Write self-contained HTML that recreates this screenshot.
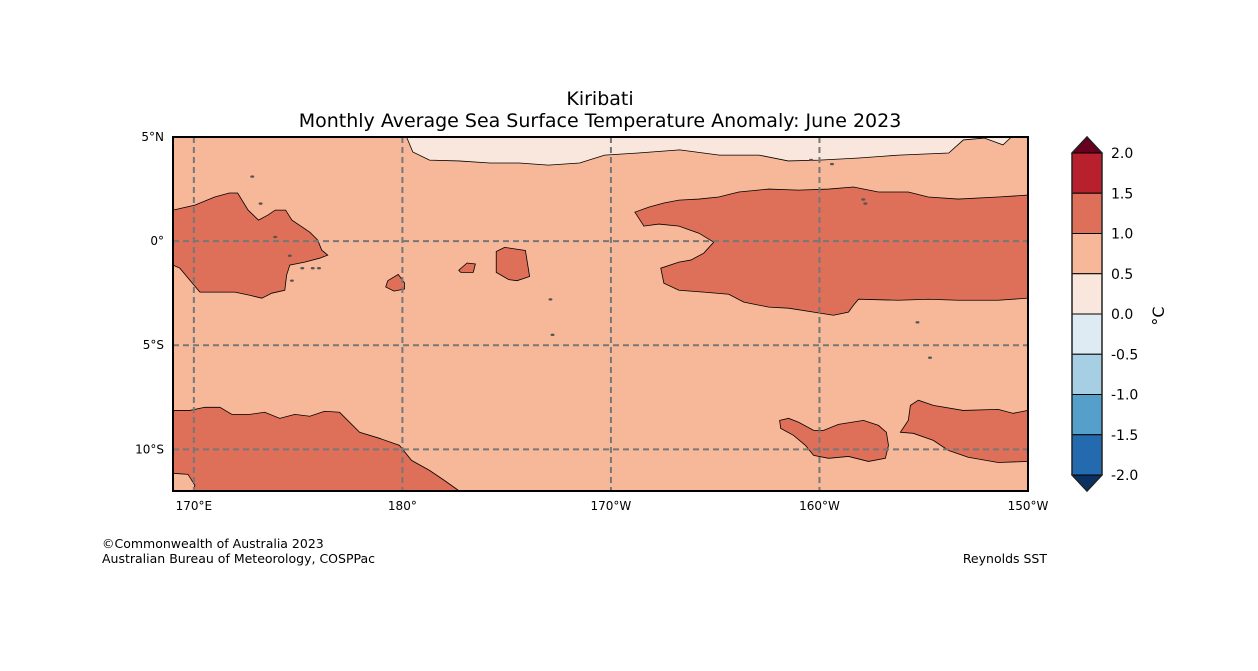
<!DOCTYPE html>
<html><head><meta charset="utf-8"><style>
body{margin:0;background:#fff;width:1258px;height:667px;overflow:hidden;font-family:"DejaVu Sans","Liberation Sans",sans-serif}
</style></head><body>
<svg id="chart" width="1258" height="667" xmlns="http://www.w3.org/2000/svg" font-family="DejaVu Sans, Liberation Sans, sans-serif">
<text x="600" y="105" text-anchor="middle" font-size="19">Kiribati</text>
<text x="600" y="127" text-anchor="middle" font-size="19">Monthly Average Sea Surface Temperature Anomaly: June 2023</text>
<g id="map"></g>
<g id="axes"></g>
<g id="cbar"></g>
<text x="102" y="548" font-size="12.5">©Commonwealth of Australia 2023</text>
<text x="102" y="563" font-size="12.5">Australian Bureau of Meteorology, COSPPac</text>
<text x="1047" y="563" text-anchor="end" font-size="12.5">Reynolds SST</text>
</svg>
<script>
const lonTicks=[170,180,190,200,210];
const lonLabels=["170°E","180°","170°W","160°W","150°W"];
const latTicks=[5,0,-5,-10];
const latLabels=["5°N","0°","5°S","10°S"];
const cbLevels=[2.0,1.5,1.0,0.5,0.0,-0.5,-1.0,-1.5,-2.0];
const cbColors=["#b8202e","#de6f58","#f6b899","#f9e7dd","#dfebf2","#a7cfe4","#559fcb","#246aaf"];
const extMax="#67001f", extMin="#0a3161";
const bgLevel="#f6b899";
const lightTop=[[180.2,5],[180.5,4.28],[181.3,3.89],[182.7,3.85],[184.2,3.75],[185.6,3.75],[187.0,3.65],[188.5,3.75],[189.7,4.13],[191.3,4.23],[193.3,4.38],[195.2,4.13],[197.1,4.13],[198.5,3.85],[200.0,3.89],[201.9,3.99],[203.8,4.13],[206.2,4.23],[206.9,4.86],[207.9,4.95],[208.8,4.62],[209.2,5]];
const redWest=[[169,1.49],[170.05,1.73],[171.0,2.12],[171.7,2.31],[172.1,2.31],[172.6,1.49],[173.1,1.01],[173.55,1.25],[173.9,1.49],[174.4,1.49],[174.7,1.01],[175.56,0.43],[175.94,0.05],[176.13,-0.43],[176.42,-0.67],[176.03,-0.82],[175.32,-1.01],[174.6,-1.15],[174.45,-1.63],[174.36,-2.36],[173.74,-2.5],[173.26,-2.74],[172.68,-2.6],[171.97,-2.45],[171.0,-2.45],[170.29,-2.45],[169.81,-1.88],[169.33,-1.3],[169,-1.15]];
const redIsl1=[[179.3,-1.9],[179.8,-1.6],[180.1,-2.0],[180.1,-2.3],[179.6,-2.4],[179.2,-2.2]];
const redIsl2=[[182.7,-1.4],[183.1,-1.05],[183.5,-1.1],[183.4,-1.5],[182.8,-1.5]];
const redIsl3=[[184.5,-0.5],[184.9,-0.3],[185.9,-0.45],[186.1,-1.7],[185.5,-1.9],[185.1,-1.85],[184.5,-1.5]];
const redEast=[[191.15,1.39],[191.82,1.63],[192.54,1.83],[193.26,1.97],[194.22,2.02],[195.17,2.12],[196.13,2.36],[197.57,2.5],[199.0,2.45],[200.44,2.5],[201.63,2.6],[202.83,2.36],[204.26,2.36],[205.22,2.12],[206.66,2.02],[208.57,2.12],[210,2.21],[210,-2.74],[208.57,-2.84],[206.66,-2.84],[205.22,-2.79],[203.78,-2.84],[201.87,-2.79],[201.63,-3.08],[201.39,-3.41],[200.67,-3.56],[199.72,-3.41],[198.52,-3.22],[197.57,-3.17],[196.37,-2.93],[195.65,-2.55],[194.45,-2.45],[193.26,-2.36],[192.54,-2.02],[192.39,-1.3],[193.26,-1.01],[193.83,-0.91],[194.45,-0.58],[194.93,-0.05],[194.22,0.38],[193.26,0.72],[192.3,0.82],[191.58,0.72]];
const redSW=[[169,-8.13],[169.81,-8.13],[170.53,-7.98],[171.25,-7.98],[171.82,-8.32],[172.68,-8.32],[173.4,-8.22],[174.12,-8.51],[174.84,-8.32],[175.56,-8.41],[176.27,-8.17],[176.99,-8.22],[177.47,-8.7],[177.95,-9.18],[178.9,-9.47],[179.86,-9.81],[180.44,-10.53],[181.3,-11.01],[182.01,-11.49],[182.73,-12],[169,-12]];
const orangeSW=[[169,-11.15],[169.72,-11.2],[170.05,-11.73],[169.96,-12],[169,-12]];
const redSE1=[[198.09,-8.61],[198.52,-8.51],[199.0,-8.7],[199.72,-9.09],[200.2,-9.09],[200.91,-8.8],[202.11,-8.61],[202.83,-8.85],[203.21,-9.18],[203.31,-9.81],[203.16,-10.43],[202.35,-10.58],[201.39,-10.34],[200.44,-10.43],[199.72,-10.29],[199.33,-9.81],[198.76,-9.33],[198.14,-8.99]];
const redSE2=[[203.88,-9.18],[204.26,-8.61],[204.36,-7.89],[204.74,-7.64],[205.46,-7.89],[206.89,-8.13],[208.57,-8.08],[209.29,-8.27],[210,-8.13],[210,-10.58],[208.57,-10.63],[207.13,-10.38],[206.18,-10.05],[205.46,-9.57],[204.5,-9.23]];
const islands=[[172.8,3.1],[173.2,1.8],[173.9,0.2],[174.6,-0.7],[175.2,-1.3],[176,-1.3],[175.7,-1.3],[174.7,-1.9],[187.1,-2.8],[187.2,-4.5],[199.6,3.9],[200.6,3.7],[202.1,2.0],[202.2,1.8],[204.7,-3.9],[205.3,-5.6]];
const lon0=169,lon1=210,lat0=5,lat1=-12;
const L=173,R=1028,T=137,B=491;
const X=lon=>L+(lon-lon0)/(lon1-lon0)*(R-L);
const Y=lat=>T+(lat0-lat)/(lat0-lat1)*(B-T);
const NS="http://www.w3.org/2000/svg";
function mk(tag,attrs,parent){const e=document.createElementNS(NS,tag);for(const k in attrs)e.setAttribute(k,attrs[k]);parent.appendChild(e);return e;}
const map=document.getElementById('map');
const bg=mk('rect',{x:L,y:T,width:R-L,height:B-T,fill:bgLevel},map);


function poly(pts,fill,name){const p=mk('polygon',{points:pts.map(q=>X(q[0])+','+Y(q[1])).join(' '),fill:fill,stroke:'#000','stroke-width':0.8},map);

}
poly(lightTop,cbColors[3],'anomaly-0-0.5-north');
poly(redWest,cbColors[1],'anomaly-1-1.5-west');
poly(redIsl1,cbColors[1],'anomaly-patch-1');
poly(redIsl2,cbColors[1],'anomaly-patch-2');
poly(redIsl3,cbColors[1],'anomaly-patch-3');
poly(redEast,cbColors[1],'anomaly-1-1.5-east');
poly(redSW,cbColors[1],'anomaly-1-1.5-southwest');
poly(orangeSW,cbColors[2],'anomaly-0.5-1-corner');
poly(redSE1,cbColors[1],'anomaly-1-1.5-southeast-a');
poly(redSE2,cbColors[1],'anomaly-1-1.5-southeast-b');
islands.forEach(q=>{const c=mk('ellipse',{cx:X(q[0]),cy:Y(q[1]),rx:2,ry:1.2,fill:'#555'},map);

});
const ax=document.getElementById('axes');
lonTicks.forEach((v,i)=>{const x=X(v);
if(v<lon1){const g=mk('line',{x1:x,x2:x,y1:T,y2:B,stroke:'#777','stroke-width':2,'stroke-dasharray':'6,4'},ax);

}
const t=mk('text',{x:x,y:B+19,'text-anchor':'middle','font-size':12},ax);t.textContent=lonLabels[i];

});
latTicks.forEach((v,i)=>{const y=Y(v);
if(v<lat0){const g=mk('line',{x1:L,x2:R,y1:y,y2:y,stroke:'#777','stroke-width':2,'stroke-dasharray':'6,4'},ax);

}
const t=mk('text',{x:L-9,y:y+4,'text-anchor':'end','font-size':12},ax);t.textContent=latLabels[i];

});
const fr=mk('rect',{x:L,y:T,width:R-L,height:B-T,fill:'none',stroke:'#000','stroke-width':2},ax);


const cb=document.getElementById('cbar');
const cx0=1072,cw=30,cTop=153,cBot=475;
const cy=v=>cTop+(cbLevels[0]-v)/(cbLevels[0]-cbLevels[cbLevels.length-1])*(cBot-cTop);
cbColors.forEach((c,i)=>{const r=mk('rect',{x:cx0,y:cy(cbLevels[i]),width:cw,height:cy(cbLevels[i+1])-cy(cbLevels[i]),fill:c,stroke:'#000','stroke-width':1},cb);

});
const tu=mk('polygon',{points:`${cx0},${cTop} ${cx0+cw/2},${T} ${cx0+cw},${cTop}`,fill:extMax,stroke:'#000','stroke-width':1},cb);


const td=mk('polygon',{points:`${cx0},${cBot} ${cx0+cw/2},${B} ${cx0+cw},${cBot}`,fill:extMin,stroke:'#000','stroke-width':1},cb);


const ol=mk('polygon',{points:`${cx0},${cTop} ${cx0+cw/2},${T} ${cx0+cw},${cTop} ${cx0+cw},${cBot} ${cx0+cw/2},${B} ${cx0},${cBot}`,fill:'none',stroke:'#222','stroke-width':1.5},cb);


cbLevels.forEach(v=>{const t=mk('text',{x:cx0+cw+9,y:cy(v)+5,'font-size':14},cb);t.textContent=v.toFixed(1);

});
const u=mk('text',{x:1164,y:316,'font-size':16,'text-anchor':'middle',transform:'rotate(-90 1164 316)'},cb);u.textContent='°C';


</script>
</body></html>
